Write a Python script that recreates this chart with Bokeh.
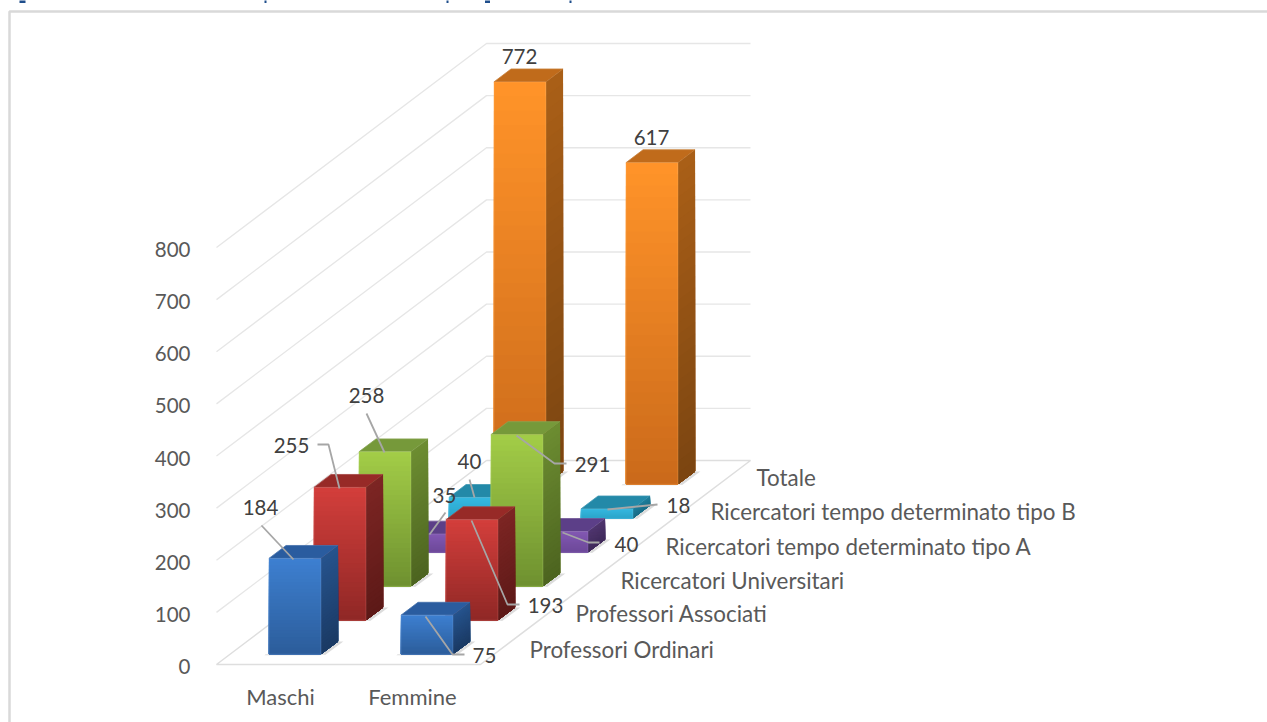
from bokeh.core.properties import value
from bokeh.embed import file_html
from bokeh.models import Range1d
from bokeh.plotting import figure
from bokeh.resources import INLINE

# Staff counts by gender and role, front row first
genders = ["Maschi", "Femmine"]
roles = [
    "Professori Ordinari",
    "Professori Associati",
    "Ricercatori Universitari",
    "Ricercatori tempo determinato tipo A",
    "Ricercatori tempo determinato tipo B",
    "Totale",
]
maschi = [184, 255, 258, 35, 40, 772]
femmine = [75, 193, 291, 40, 18, 617]
z_ticks = [0, 100, 200, 300, 400, 500, 600, 700, 800]

# Per role: front top, front bottom, side top, side bottom, top face
role_colors = [
    ("#3d7fd0", "#2b5c99", "#26538c", "#1a3963", "#2a5c9f"),
    ("#d23e3b", "#8e2725", "#7c2523", "#5c1917", "#972a27"),
    ("#a2cc47", "#6d8f2f", "#6c8c31", "#4c631f", "#76993a"),
    ("#8258b2", "#6c4898", "#50366f", "#3f2a5a", "#5c3f88"),
    ("#35b8e0", "#2aa3c8", "#217f9c", "#1a6d87", "#2389a8"),
    ("#ff9329", "#c9691a", "#a95f17", "#7a4411", "#c06b1b"),
]

# Oblique projection of the box (u across, v into depth, z up) onto the page
ORIGIN_X, ORIGIN_Y = 216.0, 664.0
WIDTH_PX = 264.0
DEPTH_DX, DEPTH_DY = 270.0, 204.0
Z_SCALE = 417.0 / 800.0
BAR_WIDTH = 0.197
BAR_DEPTH = 0.38
STRIPS = 28


def project(u, v, z):
    return (
        ORIGIN_X + u * WIDTH_PX + v * DEPTH_DX,
        ORIGIN_Y - v * DEPTH_DY - z * Z_SCALE,
    )


def mix(c1, c2, t):
    a = [int(c1[i:i + 2], 16) for i in (1, 3, 5)]
    b = [int(c2[i:i + 2], 16) for i in (1, 3, 5)]
    return "#%02x%02x%02x" % tuple(round(x + (y - x) * t) for x, y in zip(a, b))


p = figure(
    width=1267, height=722, output_backend="svg", toolbar_location=None,
    x_range=Range1d(0, 1267), y_range=Range1d(722, 0),
    min_border=0, outline_line_color=None, background_fill_color="white",
)
p.xaxis.visible = False
p.yaxis.visible = False
p.grid.visible = False

# Panel border
p.line([1267, 9, 9], [11, 11, 722], line_color="#d9d9d9", line_width=2.5)

# Clipped page heading above the panel
p.rect([22, 265, 447, 487, 570], [1, 1, 1, 1, 1], width=[6, 2, 2, 5, 2], height=3,
       fill_color="#1f4e8c", line_color=None)

# Gridlines on the left and back walls
for z in z_ticks[1:]:
    wx = [project(0, 0, z)[0], project(0, 1, z)[0], project(1, 1, z)[0]]
    wy = [project(0, 0, z)[1], project(0, 1, z)[1], project(1, 1, z)[1]]
    p.line(wx, wy, line_color="#e6e6e6", line_width=1.3)

# Floor outline
floor = [project(0, 1, 0), project(0, 0, 0), project(1, 0, 0), project(1, 1, 0), project(0, 1, 0)]
p.line([c[0] for c in floor], [c[1] for c in floor], line_color="#dedede", line_width=1.5)


def draw_bar(g, r, val):
    front_top, front_bot, side_top, side_bot, top_col = role_colors[r]
    centre = (g + 0.5) / 2 - 0.004
    u0, u1 = centre - BAR_WIDTH / 2, centre + BAR_WIDTH / 2
    v0 = (r + 0.3) / 6
    v1 = v0 + BAR_DEPTH / 6

    # Soft shadow on the floor, right of the bar
    sh = [project(u1, v0, 0), project(u1, v1, 0), project(u1 + 0.02, v1, 0), project(u1 + 0.02, v0 - 0.004, 0)]
    p.patch([c[0] for c in sh], [c[1] for c in sh], fill_color="#9a9a9a", fill_alpha=0.35, line_color=None)
    sh2 = [project(u0 - 0.012, v0, 0), project(u1, v0, 0), project(u1, v0 - 0.005, 0), project(u0 - 0.012, v0 - 0.005, 0)]
    p.patch([c[0] for c in sh2], [c[1] for c in sh2], fill_color="#9a9a9a", fill_alpha=0.35, line_color=None)

    # Top face
    top = [project(u0, v0, val), project(u1, v0, val), project(u1, v1, val), project(u0, v1, val)]
    p.patch([c[0] for c in top], [c[1] for c in top], fill_color=top_col,
            line_color=mix(top_col, "#ffffff", 0.12), line_width=0.8)

    # Gradient faces: each strip runs down to the base, so no seams show
    xs_f, ys_f, fc_f, xs_s, ys_s, fc_s = [], [], [], [], [], []
    for k in range(STRIPS):
        t = k / STRIPS
        z = val * (1 - t)
        a, b = project(u0, v0, z), project(u1, v0, z)
        c, d = project(u1, v0, 0), project(u0, v0, 0)
        xs_f.append([a[0], b[0], c[0], d[0]])
        ys_f.append([a[1], b[1], c[1], d[1]])
        fc_f.append(mix(front_top, front_bot, t))
        a, b = project(u1, v0, z), project(u1, v1, z)
        c, d = project(u1, v1, 0), project(u1, v0, 0)
        xs_s.append([a[0], b[0], c[0], d[0]])
        ys_s.append([a[1], b[1], c[1], d[1]])
        fc_s.append(mix(side_top, side_bot, t))
    p.patches(xs_s, ys_s, fill_color=fc_s, line_color=None)
    p.patches(xs_f, ys_f, fill_color=fc_f, line_color=None)

    # Faint bevel along the front face outline
    fx = [project(u0, v0, 0)[0], project(u0, v0, val)[0], project(u1, v0, val)[0], project(u1, v0, 0)[0], project(u0, v0, 0)[0]]
    fy = [project(u0, v0, 0)[1], project(u0, v0, val)[1], project(u1, v0, val)[1], project(u1, v0, 0)[1], project(u0, v0, 0)[1]]
    p.line(fx, fy, line_color=mix(front_top, "#ffffff", 0.3), line_width=0.8, line_alpha=0.4)


# Painter's order: back row to front row
for r in range(len(roles) - 1, -1, -1):
    draw_bar(0, r, maschi[r])
    draw_bar(1, r, femmine[r])

# Leader polylines between bar tops and their value labels
leaders = [
    ([261, 293], [525, 559]),
    ([317, 328, 339], [444, 444, 488]),
    ([366, 384], [413, 452]),
    ([445, 429], [512, 534]),
    ([469, 474], [479, 497]),
    ([464, 452, 425], [654, 654, 616]),
    ([519, 507, 471], [604, 604, 520]),
    ([566, 554, 516], [463, 463, 435]),
    ([657, 607], [504, 509]),
    ([599, 588, 562], [542, 542, 532]),
]
for lx, ly in leaders:
    p.line(lx, ly, line_color="#a6a6a6", line_width=1.8)

FONT = value("Lato")


def label(x, y, txt, align="center", color="#404040", size="20.5px"):
    p.text([x], [y], text=[txt], text_font=FONT, text_font_size=size,
           text_color=color, text_align=align, text_baseline="middle")


# Value labels
spots_m = [(260, 507), (291, 445), (366, 395), (444, 495), (469, 461), (519, 56)]
spots_f = [(484, 655), (545, 605), (592, 464), (626, 544), (678, 505), (651, 137)]
for (x, y), v in zip(spots_m, maschi):
    label(x, y, str(v))
for (x, y), v in zip(spots_f, femmine):
    label(x, y, str(v))

# Value axis labels along the front-left edge
for z in z_ticks:
    label(190, project(0, 0, z)[1] + 2, str(z), align="right", color="#595959")

# Category labels below the floor
for g, cx in zip(genders, (280, 412)):
    label(cx, 696, g, color="#595959", size="22px")

# Role labels along the floor's right edge
role_x = [529, 575, 620, 665, 710, 756]
role_y = [649, 613, 580, 546, 511, 477]
for name, x, y in zip(roles, role_x, role_y):
    label(x, y, name, align="left", color="#595959", size="22.4px")

open("out.html", "w").write(file_html(p, INLINE))
